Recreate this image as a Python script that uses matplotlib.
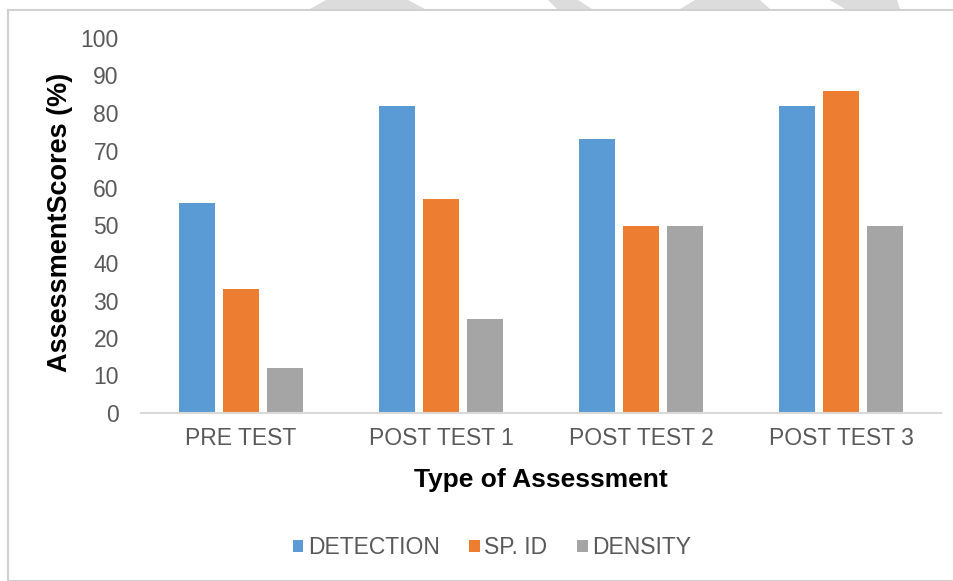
import numpy as np
import matplotlib
matplotlib.use("Agg")
import matplotlib.pyplot as plt
from matplotlib.patches import Rectangle, Polygon

plt.rcParams['font.family'] = ['Liberation Sans', 'DejaVu Sans']

# --- datos ---
categorias = ['PRE TEST', 'POST TEST 1', 'POST TEST 2', 'POST TEST 3']
deteccion = [56, 82, 73, 82]
sp_id = [33, 57, 50, 86]
densidad = [12, 25, 50, 50]
series = ['DETECTION', 'SP. ID', 'DENSITY']
colores = ['#5B9BD5', '#ED7D31', '#A5A5A5']

fig = plt.figure(figsize=(9.54, 5.81), dpi=100)
W, H = 954, 581

# marco gris claro del grafico
fig.patches.append(Rectangle((8 / W, 0), 1, 1 - 10 / H, transform=fig.transFigure,
                             fill=False, edgecolor='#d0d0d0', linewidth=1.5))

# manchas grises de marca de agua en el borde superior
formas = [
    [(310, 9), (425, 9), (408, 0), (326, 0)],
    [(557, 9), (592, 9), (578, 0), (548, 0)],
    [(680, 9), (770, 9), (760, 0), (695, 0)],
    [(845, 9), (900, 9), (897, 0), (830, 0)],
]
for f in formas:
    pts = [(x / W, 1 - y / H) for x, y in f]
    fig.patches.append(Polygon(pts, closed=True, transform=fig.transFigure,
                               facecolor='#dcdcdc', edgecolor='none'))

ax = fig.add_axes([141 / W, 1 - 413 / H, 800 / W, (413 - 38) / H])

x = np.arange(len(categorias))
ancho = 0.18
paso = 0.22
for i, (vals, nombre, c) in enumerate(zip([deteccion, sp_id, densidad], series, colores)):
    ax.bar(x + (i - 1) * paso, vals, ancho, color=c, label=nombre)

ax.set_xlim(-0.5, len(categorias) - 0.5)
ax.set_ylim(0, 100)
ax.set_yticks(range(0, 101, 10))
ax.set_xticks(x)
ax.set_xticklabels(categorias)
ax.tick_params(axis='both', length=0, labelsize=16.5, colors='#595959')
ax.tick_params(axis='x', pad=10)
ax.tick_params(axis='y', pad=16)
for s in ['top', 'right', 'left']:
    ax.spines[s].set_visible(False)
ax.spines['bottom'].set_color('#d9d9d9')
ax.spines['bottom'].set_linewidth(1.5)

fig.text(541 / W, 1 - 480 / H, 'Type of Assessment', ha='center', va='center',
         fontsize=19, fontweight='bold', color='black')
fig.text(60 / W, 1 - 222 / H, 'AssessmentScores (%)', ha='center', va='center',
         rotation=90, fontsize=19.5, fontweight='bold', color='black')

handles, labels = ax.get_legend_handles_labels()
leg = fig.legend(handles, labels, loc='center', bbox_to_anchor=(492 / W, 1 - 548 / H),
                 ncol=3, frameon=False, fontsize=16.5, handlelength=0.45, handleheight=0.45,
                 handletextpad=0.2, columnspacing=1.3)
for t in leg.get_texts():
    t.set_color('#595959')

fig.savefig('out.png', dpi=100)
